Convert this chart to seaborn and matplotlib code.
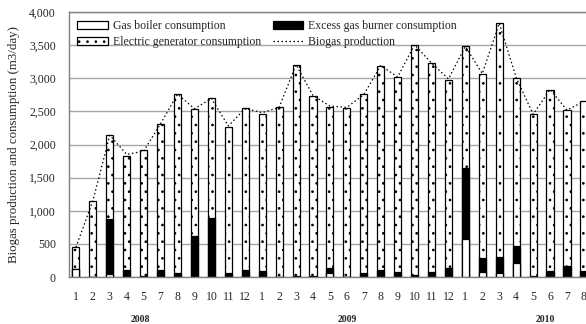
import numpy as np
import pandas as pd
import matplotlib
matplotlib.use('Agg')
import matplotlib.pyplot as plt
import matplotlib.transforms as mtransforms
import seaborn as sns

# monthly values (m3/day), Jan 2008 - Aug 2010 (no June 2008)
years = ['2008'] * 11 + ['2009'] * 12 + ['2010'] * 8
months = ['1', '2', '3', '4', '5', '7', '8', '9', '10', '11', '12',
          '1', '2', '3', '4', '5', '6', '7', '8', '9', '10', '11', '12',
          '1', '2', '3', '4', '5', '6', '7', '8']
gas_boiler = [120, 0, 45, 5, 0, 0, 0, 0, 0, 0, 0,
              0, 0, 0, 0, 60, 0, 0, 0, 0, 0, 0, 0,
              580, 80, 55, 215, 0, 20, 0, 0]
excess_burner = [0, 0, 825, 100, 20, 105, 65, 620, 885, 60, 100,
                 85, 0, 10, 10, 70, 0, 60, 100, 70, 25, 70, 130,
                 1060, 200, 250, 250, 10, 70, 160, 85]
generator = [330, 1150, 1270, 1715, 1890, 2210, 2695, 1910, 1810, 2205, 2445,
             2375, 2560, 3195, 2725, 2440, 2545, 2695, 3090, 2950, 3480, 3160, 2850,
             1840, 2790, 3525, 2545, 2445, 2740, 2355, 2565]
production = [450, 1150, 2140, 1850, 1900, 2315, 2760, 2540, 2695, 2280, 2545,
              2480, 2560, 3205, 2740, 2580, 2560, 2755, 3190, 3020, 3505, 3230, 2990,
              3480, 3070, 3830, 3010, 2455, 2830, 2520, 2650]
year_labels = ['2008', '2009', '2010']

df = pd.DataFrame({
    'idx': np.arange(len(months)),
    'boiler': gas_boiler,
    'excess': excess_burner,
    'generator': generator,
    'production': production,
})
df['lower2'] = df['boiler'] + df['excess']
df['total'] = df['lower2'] + df['generator']

sns.set_style('white')
plt.rcParams['font.family'] = ['Liberation Serif', 'DejaVu Serif']
plt.rcParams['hatch.linewidth'] = 0.7

fig = plt.figure(figsize=(5.86, 3.24), dpi=100)
ax = fig.add_axes([69 / 586, 47 / 324, 524.9 / 586, 265 / 324])

bw = 0.42
# stacked bars drawn from the top segment down so the lower ones overlay
sns.barplot(data=df, x='idx', y='total', color='white', hatch='..',
            width=bw, saturation=1, errorbar=None, ax=ax,
            label='Electric generator consumption')
sns.barplot(data=df, x='idx', y='lower2', color='black',
            width=bw, saturation=1, errorbar=None, ax=ax,
            label='Excess gas burner consumption')
sns.barplot(data=df, x='idx', y='boiler', color='white',
            width=bw, saturation=1, errorbar=None, ax=ax,
            label='Gas boiler consumption')
sns.lineplot(data=df, x='idx', y='production', color='black',
             linestyle=(0, (1.2, 2.0)), linewidth=0.9, ax=ax,
             label='Biogas production')

for c in ax.containers:
    for p in c:
        p.set_edgecolor('black')
        p.set_linewidth(0.9)

ax.set_ylim(0, 4000)
ax.set_xlim(-0.41, len(months) - 1 + 0.59)
ax.set_yticks(np.arange(0, 4001, 500))
ax.set_yticklabels([f'{v:,}' for v in range(0, 4001, 500)])
ax.yaxis.grid(True, color='#a6a6a6', linewidth=1.0)
ax.set_axisbelow(True)
ax.set_xticks(np.arange(len(months)))
ax.set_xticklabels(months)
ax.set_xticks(np.arange(len(months)) + 0.5, minor=True)
ax.tick_params(axis='x', which='major', length=0, pad=10, labelsize=8.5)
ax.tick_params(axis='x', which='minor', length=2.5, direction='in', color='#808080')
ax.tick_params(axis='y', length=2.5, direction='out', color='#808080', pad=7,
               labelsize=8.5)
ax.set_xlabel('')
ax.set_ylabel('')
for side in ['left', 'bottom', 'top']:
    ax.spines[side].set_color('#808080')
    ax.spines[side].set_linewidth(1.0)
ax.spines['right'].set_visible(False)

fig.text(14 / 586, 0.555, 'Biogas production and consumption (m3/day)',
         rotation=90, ha='center', va='center', fontsize=9.3)

trans = mtransforms.blended_transform_factory(ax.transData, ax.transAxes)
for lab, xpos in zip(year_labels, [3.78, 16.0, 27.7]):
    ax.text(xpos, -0.162, lab, transform=trans, ha='center', va='center',
            fontsize=7, fontweight='bold')

handles = {c.get_label(): c for c in ax.containers}
prod_line = [l for l in ax.get_lines() if l.get_label() == 'Biogas production'][0]
order = ['Gas boiler consumption', 'Electric generator consumption',
         'Excess gas burner consumption']
hl = [handles[k] for k in order] + [prod_line]
labs = order + ['Biogas production']
ax.legend(hl, labs, ncol=2, loc='upper left', bbox_to_anchor=(0.0, 1.0),
          frameon=False, fontsize=8.5, handlelength=2.6, handleheight=0.6,
          handletextpad=0.4, columnspacing=1.0, labelspacing=0.35,
          borderaxespad=0.3)

fig.savefig('out.png', dpi=100)
